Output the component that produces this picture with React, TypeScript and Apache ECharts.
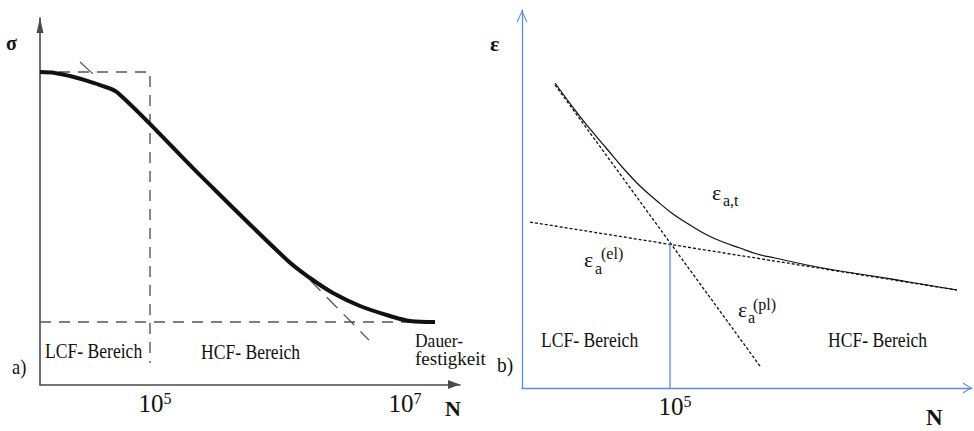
import React, { useEffect, useRef } from "react";
import * as echarts from "echarts";

const SERIF = "Liberation Serif";
const AXIS_GREY = "#4a4a4a";
const BLUE = "#5b8ed6";

// ---------- Panel a) Wöhler curve: x = lg N, y = stress amplitude (relative) ----------
const woehlerLgN = [4.12, 4.24, 4.36, 4.48, 4.6, 4.744, 5.4, 6.096, 6.28, 6.464, 6.68, 6.92, 7.08, 7.28];
const woehlerSigma = [100, 99.7, 98.7, 97.4, 95.8, 93.3, 67.0, 39.84, 34.08, 29.28, 25.12, 21.92, 20.32, 20];
const guideTopLgN = [4.12, 5, 5];
const guideTopSigma = [100, 100, 6.9];
const guideEnduranceLgN = [4.12, 7.28];
const guideEnduranceSigma = [20, 20];
const tangentTopLgN = [4.44, 4.544];
const tangentTopSigma = [103.2, 99.4];
const tangentLowLgN = [6.28, 6.752];
const tangentLowSigma = [33.4, 14.2];
const leftTicks = [5, 7];

// ---------- Panel b) strain life: x = lg N, y = strain amplitude (relative) ----------
const totalLgN = [4.08, 4.216, 4.36, 4.496, 4.624, 4.76, 4.896, 5.024, 5.16, 5.296, 5.424, 5.56, 5.696, 5.84, 6.096, 6.36, 6.624, 6.96, 7.296];
const totalEps = [80.69, 74.6, 68.52, 63.23, 58.2, 53.44, 49.47, 46.03, 43.12, 40.48, 38.62, 37.04, 35.45, 34.39, 32.54, 30.95, 29.63, 27.78, 25.93];
const elasticLgN = [3.88, 7.296];
const elasticEps = [43.9, 25.9];
const plasticLgN = [4.08, 5.72];
const plasticEps = [80.2, 5.8];
const transitionLgN = [5, 5];
const transitionEps = [0, 38.1];
const rightTicks = [5];

const zip = (xs: number[], ys: number[]) => xs.map((x, i) => [x, ys[i]]);

const tickFormatter = (v: number) => "{b|10}{s|" + Math.round(v) + "}";
const tickRich = {
  b: { fontSize: 25, fontFamily: SERIF, color: "#111", lineHeight: 26, padding: [0, 0, 0, 10] },
  s: { fontSize: 16, fontFamily: SERIF, color: "#111", lineHeight: 26, verticalAlign: "top" as const },
};

function txt(
  text: string,
  x: number,
  y: number,
  fontSize: number,
  opts: { bold?: boolean; scaleX?: number } = {}
) {
  return {
    type: "text",
    x,
    y,
    scaleX: opts.scaleX ?? 1,
    style: {
      text,
      fontSize,
      fontFamily: SERIF,
      fontWeight: opts.bold ? "bold" : "normal",
      fill: "#111",
      align: "left",
      verticalAlign: "middle",
    },
  };
}

export default function App() {
  const ref = useRef<HTMLDivElement>(null);

  useEffect(() => {
    if (!ref.current) return;
    const chart = echarts.init(ref.current, undefined, { renderer: "svg" });

    const thin = { show: false };
    const option = {
      animation: false,
      backgroundColor: "#ffffff",
      textStyle: { fontFamily: SERIF },
      grid: [
        { left: 40, right: 514, top: 18, bottom: 46.5, containLabel: false },
        { left: 522, right: 2, top: 10, bottom: 43, containLabel: false },
      ],
      xAxis: [
        {
          gridIndex: 0,
          type: "value",
          min: 4.12,
          max: 7.48,
          axisLine: {
            show: true,
            onZero: false,
            lineStyle: { color: AXIS_GREY, width: 1.6 },
            symbol: ["none", "triangle"],
            symbolSize: [9, 12],
            symbolOffset: [0, -6],
          },
          axisTick: thin,
          splitLine: thin,
          axisLabel: {
            customValues: leftTicks,
            formatter: tickFormatter,
            rich: tickRich,
            fontFamily: SERIF,
            margin: 6,
          },
        },
        {
          gridIndex: 1,
          type: "value",
          min: 3.816,
          max: 7.416,
          axisLine: {
            show: true,
            onZero: false,
            lineStyle: { color: BLUE, width: 1.3 },
            symbol: ["none", "path://M0,9 L5.5,0 L11,9 L9.8,9 L5.5,2 L1.2,9 Z"],
            symbolSize: [11, 9],
            symbolOffset: [0, -4.5],
          },
          axisTick: thin,
          splitLine: thin,
          axisLabel: {
            customValues: rightTicks,
            formatter: tickFormatter,
            rich: tickRich,
            fontFamily: SERIF,
            margin: 5,
          },
        },
      ],
      yAxis: [
        {
          gridIndex: 0,
          type: "value",
          min: 0,
          max: 117.28,
          axisLine: {
            show: true,
            onZero: false,
            lineStyle: { color: AXIS_GREY, width: 1.6 },
            symbol: ["none", "triangle"],
            symbolSize: [7, 15],
            symbolOffset: [0, -7.5],
          },
          axisTick: thin,
          splitLine: thin,
          axisLabel: thin,
        },
        {
          gridIndex: 1,
          type: "value",
          min: 0,
          max: 100,
          axisLine: {
            show: true,
            onZero: false,
            lineStyle: { color: BLUE, width: 1.3 },
            symbol: ["none", "path://M0,12 L5.5,0 L11,12 L9.8,12 L5.5,2.4 L1.2,12 Z"],
            symbolSize: [11, 12],
            symbolOffset: [0, -6],
          },
          axisTick: thin,
          splitLine: thin,
          axisLabel: thin,
        },
      ],
      series: [
        {
          name: "Wöhlerlinie",
          type: "line",
          xAxisIndex: 0,
          yAxisIndex: 0,
          data: zip(woehlerLgN, woehlerSigma),
          showSymbol: false,
          smooth: 0.35,
          lineStyle: { color: "#111", width: 4 },
          z: 5,
        },
        {
          type: "line",
          xAxisIndex: 0,
          yAxisIndex: 0,
          data: zip(guideTopLgN, guideTopSigma),
          showSymbol: false,
          lineStyle: { color: "#555", width: 1.4, type: [11, 8] },
        },
        {
          type: "line",
          xAxisIndex: 0,
          yAxisIndex: 0,
          data: zip(guideEnduranceLgN, guideEnduranceSigma),
          showSymbol: false,
          lineStyle: { color: "#555", width: 1.4, type: [11, 8] },
        },
        {
          type: "line",
          xAxisIndex: 0,
          yAxisIndex: 0,
          data: zip(tangentTopLgN, tangentTopSigma),
          showSymbol: false,
          lineStyle: { color: "#555", width: 1.2 },
        },
        {
          type: "line",
          xAxisIndex: 0,
          yAxisIndex: 0,
          data: zip(tangentLowLgN, tangentLowSigma),
          showSymbol: false,
          lineStyle: { color: "#555", width: 1.3, type: [15, 9] },
        },
        {
          name: "εa,t",
          type: "line",
          xAxisIndex: 1,
          yAxisIndex: 1,
          data: zip(totalLgN, totalEps),
          showSymbol: false,
          smooth: 0.4,
          lineStyle: { color: "#111", width: 1.2 },
          z: 5,
        },
        {
          name: "εa(el)",
          type: "line",
          xAxisIndex: 1,
          yAxisIndex: 1,
          data: zip(elasticLgN, elasticEps),
          showSymbol: false,
          lineStyle: { color: "#111", width: 1.3, type: [3, 2] },
        },
        {
          name: "εa(pl)",
          type: "line",
          xAxisIndex: 1,
          yAxisIndex: 1,
          data: zip(plasticLgN, plasticEps),
          showSymbol: false,
          lineStyle: { color: "#111", width: 1.3, type: [3, 2] },
        },
        {
          type: "line",
          xAxisIndex: 1,
          yAxisIndex: 1,
          data: zip(transitionLgN, transitionEps),
          showSymbol: false,
          lineStyle: { color: BLUE, width: 1.3 },
        },
      ],
      graphic: [
        // panel a)
        txt("σ", 6, 43, 20, { bold: true }),
        txt("LCF- Bereich", 45, 351, 20, { scaleX: 0.88 }),
        txt("HCF- Bereich", 201, 352, 20, { scaleX: 0.88 }),
        txt("Dauer-", 415, 341, 19, { scaleX: 0.92 }),
        txt("festigkeit", 415, 358, 19),
        txt("a)", 12, 367, 21, { scaleX: 0.88 }),
        txt("N", 445, 408, 22, { bold: true }),
        // panel b)
        txt("ε", 490, 43, 22, { bold: true }),
        txt("ε", 712, 192, 22),
        txt("a,t", 723, 200, 16),
        txt("ε", 584, 259, 22),
        txt("a", 595, 268, 16),
        txt("(el)", 601, 253, 16),
        txt("ε", 738, 309, 22),
        txt("a", 748, 317, 16),
        txt("(pl)", 753, 304, 16),
        txt("LCF- Bereich", 541, 340, 20, { scaleX: 0.88 }),
        txt("HCF- Bereich", 828, 340, 20, { scaleX: 0.88 }),
        txt("b)", 497, 365, 22, { scaleX: 0.88 }),
        txt("N", 926, 417, 23, { bold: true }),
      ],
    };

    chart.setOption(option as any);
    return () => chart.dispose();
  }, []);

  return (
    <div
      ref={ref}
      style={{ position: "fixed", left: 0, top: 0, width: 974, height: 431, background: "#fff" }}
    />
  );
}
